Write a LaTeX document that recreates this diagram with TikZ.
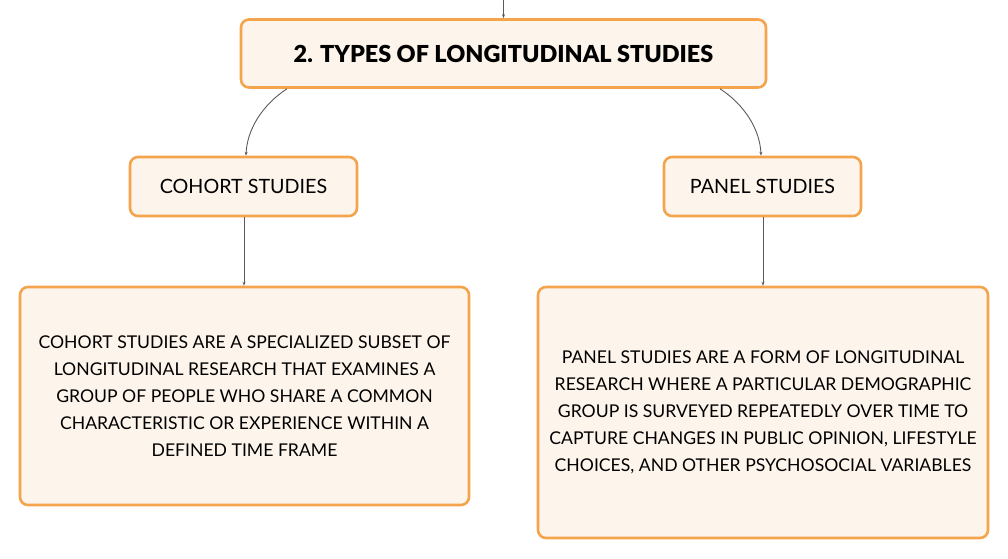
\documentclass[tikz,border=0pt]{standalone}
\usepackage{fontspec}
\setmainfont{Lato}
\newfontfamily\titlefont{Lato Black}
\usetikzlibrary{arrows.meta}
\definecolor{boxborder}{HTML}{F4A44C}
\definecolor{boxfill}{HTML}{FDF4EB}
\definecolor{linkgray}{HTML}{5A5A5A}
\tikzset{
  box/.style={draw=boxborder, fill=boxfill, line width=2.6pt, rounded corners=8pt, align=center, inner sep=0pt},
  link/.style={draw=linkgray, line width=0.9pt, -{Stealth[length=4pt,width=3pt]}},
  desc/.style={font=\fontsize{17.6}{27}\selectfont}
}
\begin{document}
\begin{tikzpicture}[x=1pt,y=-1pt]
\useasboundingbox (0,0) rectangle (1008,558);
\node[box, minimum width=525pt, minimum height=68pt, font=\fontsize{23.4}{28}\selectfont\titlefont] (title) at (503.5,53.5) {2. TYPES OF LONGITUDINAL STUDIES};
\coordinate (top) at (503.5,0);
\node[box, minimum width=227pt, minimum height=59pt, font=\fontsize{19.7}{22}\selectfont] (cohort) at (243.5,186.5) {COHORT STUDIES};
\node[box, minimum width=197pt, minimum height=59pt, font=\fontsize{19.7}{22}\selectfont] (panel) at (762.5,186.5) {PANEL STUDIES};
\node[box, desc, minimum width=449pt, minimum height=218pt] (cohortdesc) at (244.5,396) {COHORT STUDIES ARE A SPECIALIZED SUBSET OF\\LONGITUDINAL RESEARCH THAT EXAMINES A\\GROUP OF PEOPLE WHO SHARE A COMMON\\CHARACTERISTIC OR EXPERIENCE WITHIN A\\DEFINED TIME FRAME};
\node[box, desc, minimum width=450pt, minimum height=251pt] (paneldesc) at (763,412.5) {PANEL STUDIES ARE A FORM OF LONGITUDINAL\\RESEARCH WHERE A PARTICULAR DEMOGRAPHIC\\GROUP IS SURVEYED REPEATEDLY OVER TIME TO\\CAPTURE CHANGES IN PUBLIC OPINION, LIFESTYLE\\CHOICES, AND OTHER PSYCHOSOCIAL VARIABLES};
\draw[link] (top) -- (title.north);
\draw[link] (title.south -| 287,0) .. controls (262,105) and (247,130) .. (cohort.north -| 246,0);
\draw[link] (title.south -| 720,0) .. controls (745,105) and (760,130) .. (panel.north -| 761,0);
\draw[link] (cohort.south -| 244,0) -- (cohortdesc.north -| 244,0);
\draw[link] (panel.south -| 763,0) -- (paneldesc.north -| 763,0);
\end{tikzpicture}
\end{document}
